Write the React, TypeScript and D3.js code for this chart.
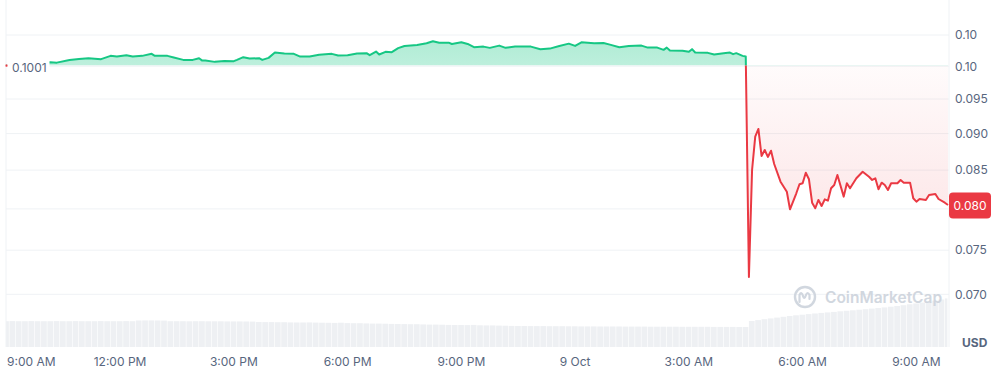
import React from "react";
import * as d3 from "d3";

// ---- data ----
const START = new Date(2024, 9, 8, 9, 0, 0); // 8 Oct, 9:00 AM
const BASELINE = 0.1001;

// minutes after START
const MINUTES = [
  0, 30, 60, 70, 80, 100, 115, 130, 150, 165, 175, 190, 200, 215, 230, 235, 255, 265, 280, 295,
  305, 310, 315, 330, 345, 360, 365, 375, 385, 400, 405, 415, 425, 440, 455, 465, 480, 495, 515, 525,
  540, 555, 570, 575, 585, 590, 600, 610, 620, 630, 650, 665, 675, 685, 700, 705, 720, 730, 740, 755,
  765, 780, 790, 805, 830, 845, 860, 875, 890, 900, 910, 930, 945, 955, 970, 985, 1005, 1015, 1030, 1040,
  1045, 1050, 1070, 1080, 1085, 1090, 1110, 1120, 1135, 1145, 1150, 1155, 1165, 1170,
  1175, 1180, 1185, 1190, 1195, 1200, 1205, 1210, 1215, 1225, 1235, 1240, 1250, 1255, 1260, 1265, 1270,
  1275, 1280, 1285, 1290, 1295, 1300, 1305, 1310, 1315, 1325, 1330, 1335, 1345, 1355, 1365, 1370, 1375,
  1380, 1385, 1390, 1395, 1400, 1410, 1415, 1420, 1430, 1435, 1440, 1445, 1455, 1460, 1470, 1475, 1485, 1490,
];

const PRICES = [
  0.1001, 0.1004, 0.10058, 0.10063, 0.10056, 0.10099, 0.10115, 0.10126, 0.10111, 0.10163, 0.10152, 0.10174,
  0.10152, 0.10163, 0.10195, 0.10163, 0.10163, 0.10136, 0.10099, 0.10099, 0.10126, 0.10088, 0.10088, 0.10068,
  0.10083, 0.10079, 0.10099, 0.10142, 0.1012, 0.10126, 0.10099, 0.10131, 0.10216, 0.102, 0.10195, 0.10152,
  0.10152, 0.10179, 0.10195, 0.10168, 0.10174, 0.102, 0.10206, 0.10174, 0.10232, 0.10184, 0.10227, 0.10222,
  0.10286, 0.10322, 0.10338, 0.10365, 0.10397, 0.10375, 0.10375, 0.10354, 0.10381, 0.10354, 0.10302, 0.10311,
  0.10291, 0.10327, 0.10291, 0.10311, 0.10311, 0.1027, 0.10279, 0.10322, 0.10359, 0.10322, 0.10381, 0.10365,
  0.1037, 0.10343, 0.10302, 0.10322, 0.10327, 0.10295, 0.10295, 0.10259, 0.10295, 0.10248, 0.10243, 0.10227,
  0.1027, 0.10216, 0.10211, 0.10184, 0.10206, 0.10216, 0.1019, 0.10206, 0.10163, 0.10152,
  0.07193, 0.08502, 0.08956, 0.09065, 0.0869, 0.08772, 0.08677, 0.08762, 0.08582, 0.08348, 0.08218, 0.07995,
  0.08198, 0.08314, 0.08327, 0.08466, 0.08379, 0.08078, 0.08008, 0.08113, 0.08037, 0.08121, 0.08104, 0.08262,
  0.08305, 0.08436, 0.08155, 0.08327, 0.08262, 0.08392, 0.08479, 0.08413, 0.0837, 0.08392, 0.08249, 0.08335,
  0.08305, 0.0824, 0.08327, 0.08327, 0.0837, 0.08335, 0.08335, 0.08134, 0.08091, 0.08125, 0.08113, 0.08176,
  0.08189, 0.08125, 0.08078, 0.08049,
];

// volume every 10 minutes from START
const VOLUME_STEP_MIN = 10;
const VOLUMES = [
  25.8, 25.9, 25.8, 25.8, 25.9, 25.8, 25.8, 25.8, 25.9, 25.8, 25.8, 25.9, 25.8, 25.8, 25.8, 25.9, 25.8, 25.8, 25.8, 25.9, 25.8,
  26.5, 26.6, 26.6, 26.5, 26.4,
  25.8, 25.8, 25.8, 25.7, 25.8, 25.8, 25.7, 25.7, 25.7, 25.6, 25.6, 25.6, 25.5, 25.4,
  25.0, 24.9, 24.9, 24.8, 24.8, 24.6, 24.5, 24.5, 24.6, 24.4, 24.3, 24.2,
  24.1, 24.3, 23.9, 23.8, 23.8, 23.6, 23.4, 23.4, 23.3, 23.1, 23.0, 22.9, 22.8, 22.8, 22.6,
  22.4, 22.4, 22.3, 22.1, 22.0, 22.0, 21.9, 22.1, 21.7, 21.6, 21.6, 21.4, 21.3,
  21.1, 21.0, 21.0, 20.9, 20.9, 20.9, 20.8, 20.8, 20.8, 20.7, 20.7, 20.6, 20.6, 20.6, 20.5, 20.5, 20.5, 20.5, 20.4,
  20.4, 20.4, 20.4, 20.3, 20.3, 20.3, 20.3, 20.3, 20.2, 20.2, 20.2, 20.2, 20.2, 20.1, 20.1, 20.1, 20.1, 20.0, 20.0,
  26.0, 26.9, 27.8, 28.6, 29.4, 30.2, 31.0, 31.7, 32.3, 32.9, 33.5, 34.1, 34.6, 35.1, 35.7, 36.2,
  36.7, 37.3, 37.8, 38.4, 39.0, 39.6, 40.3, 41.0, 41.8, 42.7, 43.5, 44.4, 45.4, 46.4, 47.5, 48.6,
];

const Y_TICKS = [0.105, 0.1, 0.095, 0.09, 0.085, 0.08, 0.075, 0.07];
const Y_TICK_LABELS = ["0.10", "0.10", "0.095", "0.090", "0.085", "0.080", "0.075", "0.070"];
const END_MIN = 1490;

const GREEN = "#16c784";
const RED = "#ea3943";
const GRID = "#eff2f5";
const TEXT = "#58667e";
const FONT = "Inter, 'Noto Sans', sans-serif";

const toDate = (m: number) => new Date(START.getTime() + m * 60000);

export default function App() {
  const W = 1002;
  const H = 371;

  const x = d3.scaleTime().domain([START, toDate(END_MIN)]).range([6.3, 948]);
  const y = d3.scaleLog().domain([0.07, 0.105]).range([294.3, 35]);
  const yVol = d3.scaleLinear().domain([0, 50]).range([347, 297]);

  const pts = MINUTES.map((m, i) => ({ t: toDate(m), p: PRICES[i] }));
  const yBase = y(BASELINE);

  const line = d3
    .line<{ t: Date; p: number }>()
    .x((d) => x(d.t))
    .y((d) => y(d.p));
  const area = d3
    .area<{ t: Date; p: number }>()
    .x((d) => x(d.t))
    .y0(yBase)
    .y1((d) => y(d.p));

  const linePath = line(pts) || "";
  const areaPath = area(pts) || "";

  const ticks = d3.timeHour.every(3)!.range(START, toDate(END_MIN));
  const fmtTick = (d: Date) =>
    d.getHours() === 0 ? d3.timeFormat("%-d %b")(d) : d3.timeFormat("%-I:%M %p")(d);

  const step = x(toDate(VOLUME_STEP_MIN)) - x(START);
  const last = PRICES[PRICES.length - 1];
  const yLast = y(last);
  const plotLeft = 6;
  const plotRight = 949;

  return (
    <svg
      width={W}
      height={H}
      viewBox={`0 0 ${W} ${H}`}
      style={{ position: "absolute", left: 0, top: 0, display: "block", background: "#fff" }}
      fontFamily={FONT}
    >
      <defs>
        <clipPath id="above">
          <rect x={0} y={0} width={W} height={yBase} />
        </clipPath>
        <clipPath id="below">
          <rect x={0} y={yBase} width={W} height={H - yBase} />
        </clipPath>
        <linearGradient id="gGreen" gradientUnits="userSpaceOnUse" x1={0} y1={yBase} x2={0} y2={y(0.104)}>
          <stop offset="0" stopColor={GREEN} stopOpacity={0.28} />
          <stop offset="1" stopColor={GREEN} stopOpacity={0.34} />
        </linearGradient>
        <linearGradient id="gRed" gradientUnits="userSpaceOnUse" x1={0} y1={yBase} x2={0} y2={y(0.0719)}>
          <stop offset="0" stopColor={RED} stopOpacity={0.02} />
          <stop offset="1" stopColor={RED} stopOpacity={0.16} />
        </linearGradient>
      </defs>

      {/* volume bars */}
      <g>
        {VOLUMES.map((v, i) => {
          const cx = x(toDate(i * VOLUME_STEP_MIN));
          const x0 = Math.max(plotLeft, cx - step / 2);
          const x1 = Math.min(plotRight - 1, cx + step / 2);
          return (
            <rect
              key={i}
              x={x0}
              y={yVol(v)}
              width={Math.max(0, x1 - x0 - 0.6)}
              height={yVol(0) - yVol(v)}
              fill="#eef0f3"
            />
          );
        })}
      </g>

      {/* grid */}
      <g>
        {Y_TICKS.map((t, i) => (
          <line key={i} x1={plotLeft} x2={plotRight} y1={y(t)} y2={y(t)} stroke={GRID} strokeWidth={1} />
        ))}
        <line x1={plotLeft} x2={plotLeft} y1={0} y2={347} stroke={GRID} strokeWidth={1} />
        <line x1={plotRight} x2={plotRight} y1={0} y2={347} stroke={GRID} strokeWidth={1} />
      </g>

      {/* watermark */}
      <g opacity={0.9}>
        <circle cx={805} cy={297} r={10} fill="none" stroke="#cdd3dc" strokeWidth={2.4} />
        <path
          d="M799.5,302 L799.5,295 Q801.5,291 803,296 Q804.5,300 806,295 Q807.5,291 809.5,295 L809.5,299"
          fill="none"
          stroke="#cdd3dc"
          strokeWidth={2.2}
          strokeLinecap="round"
        />
        <text x={825} y={303} fontSize={15.5} fontWeight={600} fill="#cdd3dc">
          CoinMarketCap
        </text>
      </g>

      {/* areas */}
      <path d={areaPath} fill="url(#gGreen)" clipPath="url(#above)" />
      <path d={areaPath} fill="url(#gRed)" clipPath="url(#below)" />

      {/* lines */}
      <path d={linePath} fill="none" stroke={GREEN} strokeWidth={2} strokeLinejoin="round" clipPath="url(#above)" />
      <path d={linePath} fill="none" stroke={RED} strokeWidth={2} strokeLinejoin="round" clipPath="url(#below)" />

      {/* baseline label */}
      <rect x={7} y={57} width={42.5} height={19} fill="#fff" />
      <rect x={5.5} y={yBase - 1} width={2} height={2} fill={RED} />
      <text x={12} y={71.8} fontSize={12} fill={TEXT}>
        {BASELINE.toFixed(4)}
      </text>

      {/* y axis labels (the one under the price badge is hidden, as in the reference) */}
      <g>
        {Y_TICKS.map((t, i) =>
          Math.abs(y(t) - yLast) < 14 ? null : (
            <text key={i} x={955} y={y(t) + 4.3} fontSize={12} fill={TEXT}>
              {Y_TICK_LABELS[i]}
            </text>
          )
        )}
      </g>

      {/* current price badge */}
      <rect x={949} y={yLast - 12.5} width={42} height={26} rx={4} fill={RED} />
      <text x={970} y={yLast + 4.8} fontSize={12} fill="#fff" textAnchor="middle">
        {last.toFixed(3)}
      </text>

      {/* x axis labels */}
      <g>
        {ticks.map((d, i) => {
          const px = x(d);
          const first = i === 0;
          return (
            <text
              key={i}
              x={first ? 7 : px}
              y={365.5}
              fontSize={12}
              fill={TEXT}
              textAnchor={first ? "start" : "middle"}
            >
              {fmtTick(d)}
            </text>
          );
        })}
      </g>

      <text x={962} y={347} fontSize={12} fontWeight={700} fill={TEXT}>
        USD
      </text>
    </svg>
  );
}
